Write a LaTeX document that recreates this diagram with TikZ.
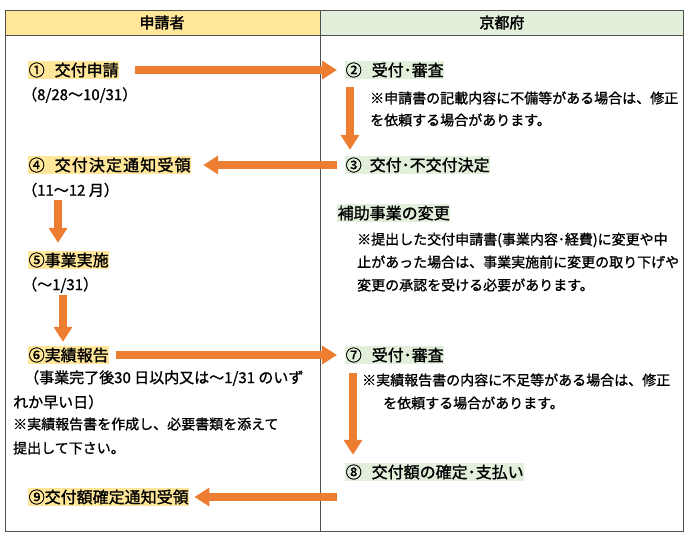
\documentclass[tikz,border=0pt]{standalone}
\usepackage{fontspec}
\newfontfamily\jp{Noto Sans CJK JP}[FakeBold=1.2,AutoFakeBold=2.2]
\usetikzlibrary{arrows.meta,calc}
\definecolor{hlY}{HTML}{FFE699}
\definecolor{hlG}{HTML}{E2EFDA}
\definecolor{arrO}{HTML}{ED7D31}
\definecolor{frameC}{HTML}{505050}
\begin{document}
\begin{tikzpicture}[x=1pt,y=-1pt,
  lblY/.style={anchor=west, fill=hlY, inner xsep=0.5pt, inner ysep=0pt, minimum height=18pt, font={\jp\fontsize{16}{19}\selectfont}},
  lblG/.style={lblY, fill=hlG},
  noteL/.style={anchor=west, inner sep=0pt, font={\jp\fontsize{15}{18}\selectfont}},
  noteS/.style={anchor=west, inner sep=0pt, font={\jp\fontsize{14}{17}\selectfont}},
  headtxt/.style={inner sep=0pt, font={\jp\bfseries\fontsize{15}{18}\selectfont}},
  arr/.style={draw=arrO, line width=8pt, -{Triangle[length=15pt,width=18pt]}},
]
\useasboundingbox (0,0) rectangle (690,539);
% table
\fill[hlY] (5,10) rectangle (320,35);
\fill[hlG] (320,10) rectangle (683,35);
\draw[frameC, line width=1pt] (5,10) rectangle (683,531);
\draw[frameC, line width=1pt] (5,35) -- (683,35);
\draw[frameC, line width=1pt] (320,10) -- (320,531);
\node[headtxt] (hL) at (162,22.5) {申請者};
\node[headtxt] (hR) at (502,22.5) {京都府};
% left column
\node[lblY] (n1) at (28,70) {①\hspace{10pt}交付申請};
\node[noteL] (d1) at (22,95) {（8/28～10/31）};
\node[lblY, font={\jp\fontsize{16}{19}\selectfont\addfontfeature{LetterSpace=7}}] (n4) at (28,165) {④\hspace{10pt}交付決定通知受領};
\node[noteL] (d4) at (22,190) {（11～12 月）};
\node[lblY] (n5) at (28,260) {⑤事業実施};
\node[noteL] (d5) at (22,285) {（～1/31）};
\node[lblY] (n6) at (28,355) {⑥実績報告};
\node[noteL] (d6a) at (24,378) {（事業完了後30 日以内又は～1/31 のいず};
\node[noteL] (d6b) at (13,402) {れか早い日）};
\node[noteS] (d6c) at (13,424) {※実績報告書を作成し、必要書類を添えて};
\node[noteS] (d6d) at (13,448) {提出して下さい。};
\node[lblY] (n9) at (28,497) {⑨交付額確定通知受領};
% right column
\node[lblG] (n2) at (345,70) {②\hspace{10pt}受付･審査};
\node[noteS] (r2a) at (370,98) {※申請書の記載内容に不備等がある場合は、修正};
\node[noteS] (r2b) at (370,120) {を依頼する場合があります。};
\node[lblG] (n3) at (345,165) {③\hspace{8pt}交付･不交付決定};
\node[lblG] (chg) at (337,213) {補助事業の変更};
\node[noteS] (c1) at (357,240) {※提出した交付申請書(事業内容･経費)に変更や中};
\node[noteS] (c2) at (357,262) {止があった場合は、事業実施前に変更の取り下げや};
\node[noteS] (c3) at (357,285) {変更の承認を受ける必要があります。};
\node[lblG] (n7) at (345,355) {⑦\hspace{10pt}受付･審査};
\node[noteS] (r7a) at (362,380) {※実績報告書の内容に不足等がある場合は、修正};
\node[noteS] (r7b) at (383,403) {を依頼する場合があります。};
\node[lblG] (n8) at (345,472) {⑧\hspace{10pt}交付額の確定･支払い};
% arrows
\draw[arr, shorten <=16pt, shorten >=8pt] (n1.east) -- (n2.west);
\draw[arr] ([xshift=5pt,yshift=-8pt]n2.south west) -- ([xshift=5pt,yshift=6pt]n3.north west);
\draw[arr, shorten <=8pt, shorten >=12pt] (n3.west) -- (n4.east);
\draw[arr] ([xshift=36pt,yshift=-2.5pt]d4.south west) -- ([xshift=30pt,yshift=8pt]n5.north west);
\draw[arr] ([xshift=41pt,yshift=-2.5pt]d5.south west) -- ([xshift=35pt,yshift=4pt]n6.north west);
\draw[arr, shorten <=7pt, shorten >=8pt] (n6.east) -- (n7.west);
\draw[arr] ([xshift=8pt,yshift=-9pt]n7.south west) -- ([xshift=8pt,yshift=8pt]n8.north west);
\draw[arr, shorten <=8pt, shorten >=5pt] (n8.west |- n9.east) -- (n9.east);
\end{tikzpicture}
\end{document}
